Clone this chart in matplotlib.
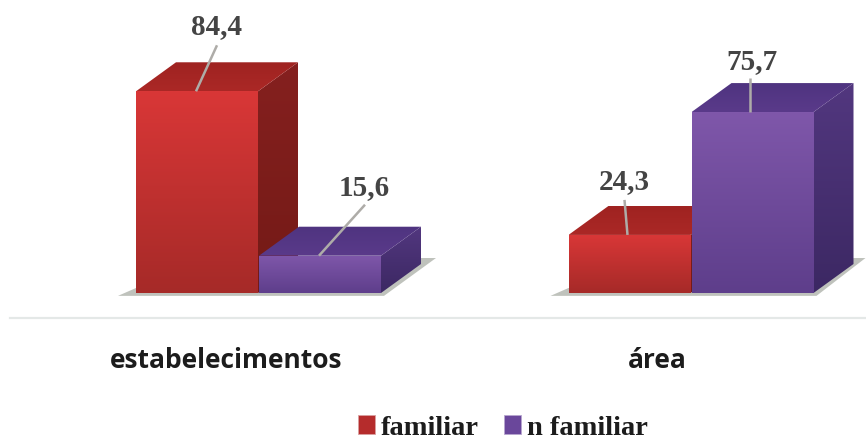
import numpy as np
import matplotlib
matplotlib.use("Agg")
import matplotlib.pyplot as plt
from matplotlib.colors import to_rgb, LinearSegmentedColormap
from matplotlib.patches import Patch, Polygon

categories = ["estabelecimentos", "área"]
series_names = ["familiar", "n familiar"]
familiar = [84.4, 24.3]
n_familiar = [15.6, 75.7]
value_labels = [["84,4", "24,3"], ["15,6", "75,7"]]

W, H = 866, 441
PX_X = 432.5            # pixels per category
PX_Y = 2.39             # pixels per value unit
BASE_PX = 293.0
X0_PX = 258.5

fig = plt.figure(figsize=(W / 100, H / 100), dpi=100, facecolor="white")
ax = fig.add_axes([0, 0, 1, 1])
ax.set_xlim(-X0_PX / PX_X, (W - X0_PX) / PX_X)
ax.set_ylim(-(H - BASE_PX) / PX_Y, BASE_PX / PX_Y)
ax.axis("off")

bar_w = 122 / PX_X
off = 61.5 / PX_X
dx = 40 / PX_X
dy = 29 / PX_Y

PAL = {
    0: dict(front=("#d93737", "#a62a28"), top=("#9f2321", "#ab2826"), side=("#85201f", "#741a16")),
    1: dict(front=("#7f57aa", "#5e3e8b"), top=("#4f3480", "#5a3a8a"), side=("#52377f", "#3c2863")),
}


def grad_poly(pts, c_top, c_bot, z):
    pts = np.array(pts)
    cmap = LinearSegmentedColormap.from_list("g", [to_rgb(c_top), to_rgb(c_bot)])
    ext = [pts[:, 0].min(), pts[:, 0].max(), pts[:, 1].min(), pts[:, 1].max()]
    im = ax.imshow(np.linspace(0, 1, 128)[:, None], cmap=cmap, extent=ext, origin="upper",
                   aspect="auto", zorder=z, interpolation="bilinear")
    poly = Polygon(pts, closed=True, transform=ax.transData, fc="none", ec="none")
    ax.add_patch(poly)
    im.set_clip_path(poly)


def bar3d(x, v, s, z):
    l, r = x - bar_w / 2, x + bar_w / 2
    p = PAL[s]
    grad_poly([(r, 0), (r + dx, dy), (r + dx, v + dy), (r, v)], *p["side"], z)
    grad_poly([(l, v), (r, v), (r + dx, v + dy), (l + dx, v + dy)], *p["top"], z + 0.1)
    grad_poly([(l, 0), (r, 0), (r, v), (l, v)], *p["front"], z + 0.2)


# floor shadows
for i, right_ext in enumerate([55, 52]):
    l = i - off - bar_w / 2 - 18 / PX_X
    r = i + off + bar_w / 2
    ax.add_patch(Polygon([(l, -1.2), (r + 3 / PX_X, -1.2),
                          (r + right_ext / PX_X, 35 / PX_Y), (r + 40 / PX_X, 35 / PX_Y),
                          (r, 5 / PX_Y), (l + 18 / PX_X, 5 / PX_Y)],
                         fc="#bfc2bc", ec="none", zorder=1))

# bars
for i in range(len(categories)):
    bar3d(i - off, familiar[i], 0, 2 + i)
    bar3d(i + off, n_familiar[i], 1, 2.5 + i)

# value labels with leader lines: anchor, line end, text centre offsets (px from front-top centre)
leader = {
    (0, 0): ((-1, 0), (20, 46), (20, 65)),
    (0, 1): ((-1, 0), (45, 51), (44, 68)),
    (1, 0): ((-2, 0), (-5, 35), (-5, 53)),
    (1, 1): ((-3, 0), (-3, 34), (-1, 51)),
}
for s, vals in enumerate([familiar, n_familiar]):
    for i, v in enumerate(vals):
        x = i + (-off if s == 0 else off)
        a, b, t = leader[(i, s)]
        ax.plot([x + a[0] / PX_X, x + b[0] / PX_X], [v + a[1] / PX_Y, v + b[1] / PX_Y],
                color="#aeaca8", lw=1.8, zorder=8, solid_capstyle="butt")
        ax.text(x + t[0] / PX_X, v + t[1] / PX_Y, value_labels[s][i], ha="center", va="center",
                family="Liberation Serif", weight="bold", fontsize=21, color="#444444", zorder=9)

# axis line
ax.plot([10 / W, 1], [1 - 318 / H] * 2, transform=ax.transAxes, color="#e4e8e7", lw=1.6, zorder=1)

# category labels
for i, c in enumerate(categories):
    xp = [226, 657][i]
    ax.text((xp - X0_PX) / PX_X, (BASE_PX - 368) / PX_Y, c, ha="center", va="baseline",
            family="Open Sans", weight="bold", fontsize=19, color="#1c1c1c")

# legend
handles = [Patch(fc="#b52c2c", ec="#d9a0a0", lw=0.6, label=series_names[0]),
           Patch(fc="#6a479b", ec="#b7a6cf", lw=0.6, label=series_names[1])]
leg = ax.legend(handles=handles, ncol=2, loc="center left",
                bbox_to_anchor=(358 / W, 1 - 428 / H), bbox_transform=fig.transFigure,
                frameon=False, handlelength=0.6, handleheight=0.6, handletextpad=0.2,
                columnspacing=0.88, borderpad=0, borderaxespad=0,
                prop=dict(family="Liberation Serif", weight="bold", size=20.5))
for t in leg.get_texts():
    t.set_color("#1c1c1c")

fig.savefig("out.png", dpi=100, facecolor="white")
